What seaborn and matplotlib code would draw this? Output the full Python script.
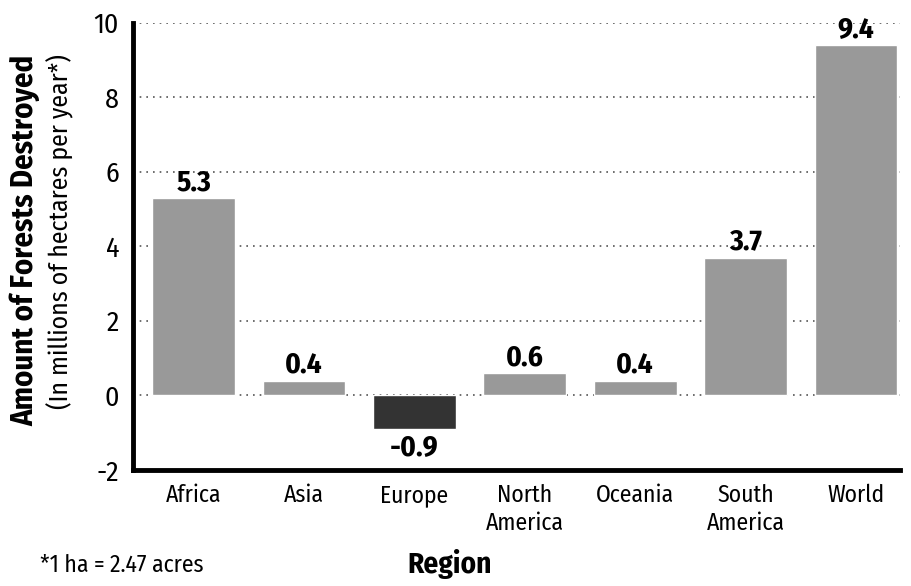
import matplotlib
matplotlib.use('Agg')
import matplotlib.pyplot as plt
import seaborn as sns
import pandas as pd

regions = ['Africa', 'Asia', 'Europe', 'North\nAmerica', 'Oceania', 'South\nAmerica', 'World']
values = [5.3, 0.4, -0.9, 0.6, 0.4, 3.7, 9.4]
labels = ['5.3', '0.4', '-0.9', '0.6', '0.4', '3.7', '9.4']

df = pd.DataFrame({'region': regions, 'value': values})
colors = ['#333333' if v < 0 else '#999999' for v in values]

sns.set_style('white')
plt.rcParams['font.family'] = ['Fira Sans Semi Condensed', 'Fira Sans Condensed', 'DejaVu Sans']
plt.rcParams['text.color'] = 'black'
plt.rcParams['xtick.color'] = 'black'
plt.rcParams['ytick.color'] = 'black'

fig = plt.figure(figsize=(9.11, 5.86), dpi=100)
ax = fig.add_axes([0.146, 0.198, 0.842, 0.763])

sns.barplot(data=df, x='region', y='value', hue='region', palette=colors,
            legend=False, width=0.75, saturation=1, ax=ax, zorder=2)

ax.set_xlim(-0.55, 6.4)
ax.set_ylim(-2, 10)
ax.set_yticks([-2, 0, 2, 4, 6, 8, 10])
ax.set_yticklabels(['-2', '0', '2', '4', '6', '8', '10'])
ax.yaxis.grid(True, linestyle=(0, (1, 3)), color='#555555', linewidth=1.2, zorder=0)
ax.set_axisbelow(True)
ax.tick_params(axis='y', labelsize=20, length=0, pad=10)
ax.tick_params(axis='x', labelsize=17, length=0, pad=10)
for t in ax.get_xticklabels():
    t.set_linespacing(1.25)
ax.set_xlabel('')
ax.set_ylabel('')

for s in ['top', 'right']:
    ax.spines[s].set_visible(False)
for s in ['left', 'bottom']:
    ax.spines[s].set_linewidth(3.5)
    ax.spines[s].set_color('black')

for i, (v, t) in enumerate(zip(values, labels)):
    if v >= 0:
        ax.text(i, v + 0.04, t, ha='center', va='bottom', fontsize=21, fontweight='bold')
    else:
        ax.text(i, v - 0.12, t, ha='center', va='top', fontsize=21, fontweight='bold')

fig.text(0.028, 0.59, 'Amount of Forests Destroyed', rotation=90, ha='center', va='center',
         fontsize=22, fontweight='bold')
fig.text(0.066, 0.605, '(In millions of hectares per year*)', rotation=90, ha='center', va='center',
         fontsize=18.5)
fig.text(0.494, 0.036, 'Region', ha='center', va='center', fontsize=21, fontweight='bold')
fig.text(0.044, 0.035, '*1 ha = 2.47 acres', ha='left', va='center', fontsize=17)

fig.savefig('out.png', dpi=100)
